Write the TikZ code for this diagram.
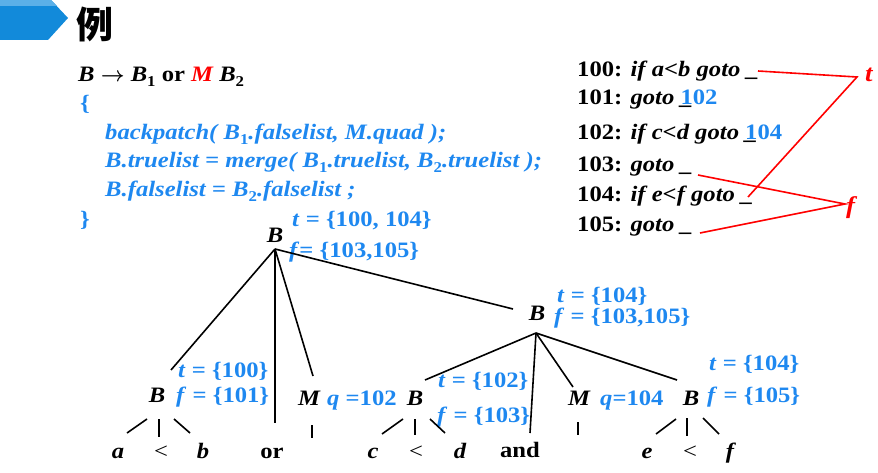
\documentclass[tikz,border=0pt]{standalone}
\usepackage{amsmath}
\usepackage{fontspec}
\setmainfont{Liberation Serif}[FakeStretch=1.12]
\newfontfamily\cjk{Noto Sans CJK SC}
\definecolor{myblue}{RGB}{30,136,240}
\definecolor{bardark}{RGB}{18,138,218}
\definecolor{barlight}{RGB}{91,176,232}
\newcommand\mysub[1]{\raisebox{-0.22em}{\fontsize{15}{15}\selectfont\upshape #1}}
\tikzset{
  code/.style={anchor=base west, inner sep=0pt, font=\fontsize{22}{26}\selectfont\bfseries},
  lab/.style={anchor=base west, inner sep=0pt, text=myblue, font=\fontsize{22}{26}\selectfont\bfseries},
  sym/.style={anchor=base, inner sep=0pt, font=\fontsize{22}{26}\selectfont\bfseries\itshape},
  leaf/.style={anchor=base, inner sep=0pt, font=\fontsize{22}{26}\selectfont\bfseries\itshape},
  tedge/.style={line width=1.6pt},
  redl/.style={red, line width=1.6pt},
  tf/.style={anchor=base west, inner sep=0pt, text=red, font=\fontsize{24}{24}\selectfont\bfseries\itshape}
}
\begin{document}
\begin{tikzpicture}[x=1pt,y=-1pt]
\useasboundingbox (0,0) rectangle (878,473);
% title bar
\fill[bardark] (0,0) -- (51,0) -- (68,18) -- (48,40) -- (0,40) -- cycle;
\fill[barlight] (0,0) -- (51,0) -- (57,6) -- (0,6) -- cycle;
\node[inner sep=0pt, font=\cjk\bfseries\fontsize{37}{37}\selectfont] (title) at (95,24) {例};

% left code
\node[code] (prod) at (78,82) {\itshape B \upshape$\boldsymbol{\rightarrow}$ \itshape B\mysub{1} \upshape or \textcolor{red}{\itshape M} \itshape B\mysub{2}};
\node[code,text=myblue] (lbr) at (80,111) {\{};
\node[code,text=myblue] (l3) at (105,140) {\itshape backpatch( B\mysub{1}.falselist, M.quad );};
\node[code,text=myblue] (l4) at (105,168) {\itshape B.truelist = merge( B\mysub{1}.truelist, B\mysub{2}.truelist );};
\node[code,text=myblue] (l5) at (105,197) {\itshape B.falselist = B\mysub{2}.falselist ;};
\node[code,text=myblue] (rbr) at (80,226) {\}};

% right code
\node[code] (c100) at (577,77) {100: \itshape if a<b goto \_};
\node[code] (c101) at (577,105) {101: \itshape goto \rlap{\_}\textcolor{myblue}{\upshape 102}};
\node[code] (c102) at (577,140) {102: \itshape if c<d goto \rlap{\_}\textcolor{myblue}{\upshape 104}};
\node[code] (c103) at (577,172) {103: \itshape goto \_};
\node[code] (c104) at (577,202) {104: \itshape if e<f goto \_};
\node[code] (c105) at (577,232) {105: \itshape goto \_};
\node[tf] (tl) at (865,82) {t};
\node[tf] (fl) at (846,214) {f};
\coordinate (u100) at (758,71);
\coordinate (u104) at (748,197);
\coordinate (u103) at (698,175);
\coordinate (u105) at (700,233);
\coordinate (tj) at ([shift={(-8,-5)}]tl.base west);
\coordinate (fj) at ([shift={(-1,-10)}]fl.base west);
\draw[redl] (u100) -- (tj) -- (u104);
\draw[redl] (u103) -- (fj) -- (u105);

% tree nodes
\node[sym] (rB) at (275,243) {B};
\node[sym] (b1) at (157,402) {B};
\node[sym] (m1) at (309,405) {M};
\node[sym] (mB) at (537,320) {B};
\node[sym] (b2) at (415,405) {B};
\node[sym] (m2) at (579,405) {M};
\node[sym] (b3) at (691,405) {B};
% leaves
\node[leaf] (la) at (118,458) {a};
\node[leaf,font=\fontsize{22}{26}\selectfont] (llt1) at (161,458) {<};
\node[leaf] (lb) at (203,458) {b};
\node[leaf,font=\fontsize{22}{26}\selectfont\bfseries] (lor) at (272,458) {or};
\node[leaf] (lc) at (373,458) {c};
\node[leaf,font=\fontsize{22}{26}\selectfont] (llt2) at (416,458) {<};
\node[leaf] (ld) at (460,458) {d};
\node[leaf,font=\fontsize{22}{26}\selectfont\bfseries] (land) at (520,457) {and};
\node[leaf] (le) at (647,458) {e};
\node[leaf,font=\fontsize{22}{26}\selectfont] (llt3) at (690,458) {<};
\node[leaf] (lf) at (730,458) {f};
\coordinate (m1e) at (312,438);
\coordinate (m2e) at (578,435);
% labels
\node[lab] (rBt) at (292,226) {\textit{t} = \{100, 104\}};
\node[lab] (rBf) at (289,258) {\textit{f}= \{103,105\}};
\node[lab] (mBt) at (557,302) {\textit{t} = \{104\}};
\node[lab] (mBf) at (554,323) {\textit{f} = \{103,105\}};
\node[lab] (b1t) at (178,377) {\textit{t} = \{100\}};
\node[lab] (b1f) at (176,402) {\textit{f} = \{101\}};
\node[lab] (m1q) at (327,405) {\textit{q} =102};
\node[lab] (b2t) at (438,387) {\textit{t} = \{102\}};
\node[lab] (b2f) at (437,422) {\textit{f} = \{103\}};
\node[lab] (m2q) at (600,405) {\textit{q}=104};
\node[lab] (b3t) at (709,370) {\textit{t} = \{104\}};
\node[lab] (b3f) at (707,402) {\textit{f} = \{105\}};
% edges
\draw[tedge] ([shift={(0,6)}]rB.base) -- ([shift={(14,-32)}]b1.base);
\draw[tedge] ([shift={(0,6)}]rB.base) -- ([shift={(3,-35)}]lor.base);
\draw[tedge] ([shift={(0,6)}]rB.base) -- ([shift={(4,-29)}]m1.base);
\draw[tedge] ([shift={(0,6)}]rB.base) -- ([shift={(-24,-11)}]mB.base);
\draw[tedge] ([shift={(-1,13)}]mB.base) -- ([shift={(10,-25)}]b2.base);
\draw[tedge] ([shift={(-1,13)}]mB.base) -- ([shift={(10,-24)}]land.base);
\draw[tedge] ([shift={(-1,13)}]mB.base) -- ([shift={(-6,-18)}]m2.base);
\draw[tedge] ([shift={(-1,13)}]mB.base) -- ([shift={(-14,-25)}]b3.base);
\draw[tedge] ([shift={(-10,17)}]b1.base) -- ([shift={(9,-25)}]la.base);
\draw[tedge] ([shift={(2,17)}]b1.base) -- ([shift={(-2,-21)}]llt1.base);
\draw[tedge] ([shift={(17,17)}]b1.base) -- ([shift={(-13,-25)}]lb.base);
\draw[tedge] ([shift={(3,20)}]m1.base) -- (m1e);
\draw[tedge] ([shift={(-12,14)}]b2.base) -- ([shift={(9,-24)}]lc.base);
\draw[tedge] ([shift={(0,14)}]b2.base) -- ([shift={(-1,-23)}]llt2.base);
\draw[tedge] ([shift={(15,14)}]b2.base) -- ([shift={(-15,-25)}]ld.base);
\draw[tedge] ([shift={(-1,17)}]m2.base) -- (m2e);
\draw[tedge] ([shift={(-15,14)}]b3.base) -- ([shift={(9,-24)}]le.base);
\draw[tedge] ([shift={(-4,13)}]b3.base) -- ([shift={(-3,-22)}]llt3.base);
\draw[tedge] ([shift={(12,13)}]b3.base) -- ([shift={(-11,-24)}]lf.base);
\end{tikzpicture}
\end{document}
